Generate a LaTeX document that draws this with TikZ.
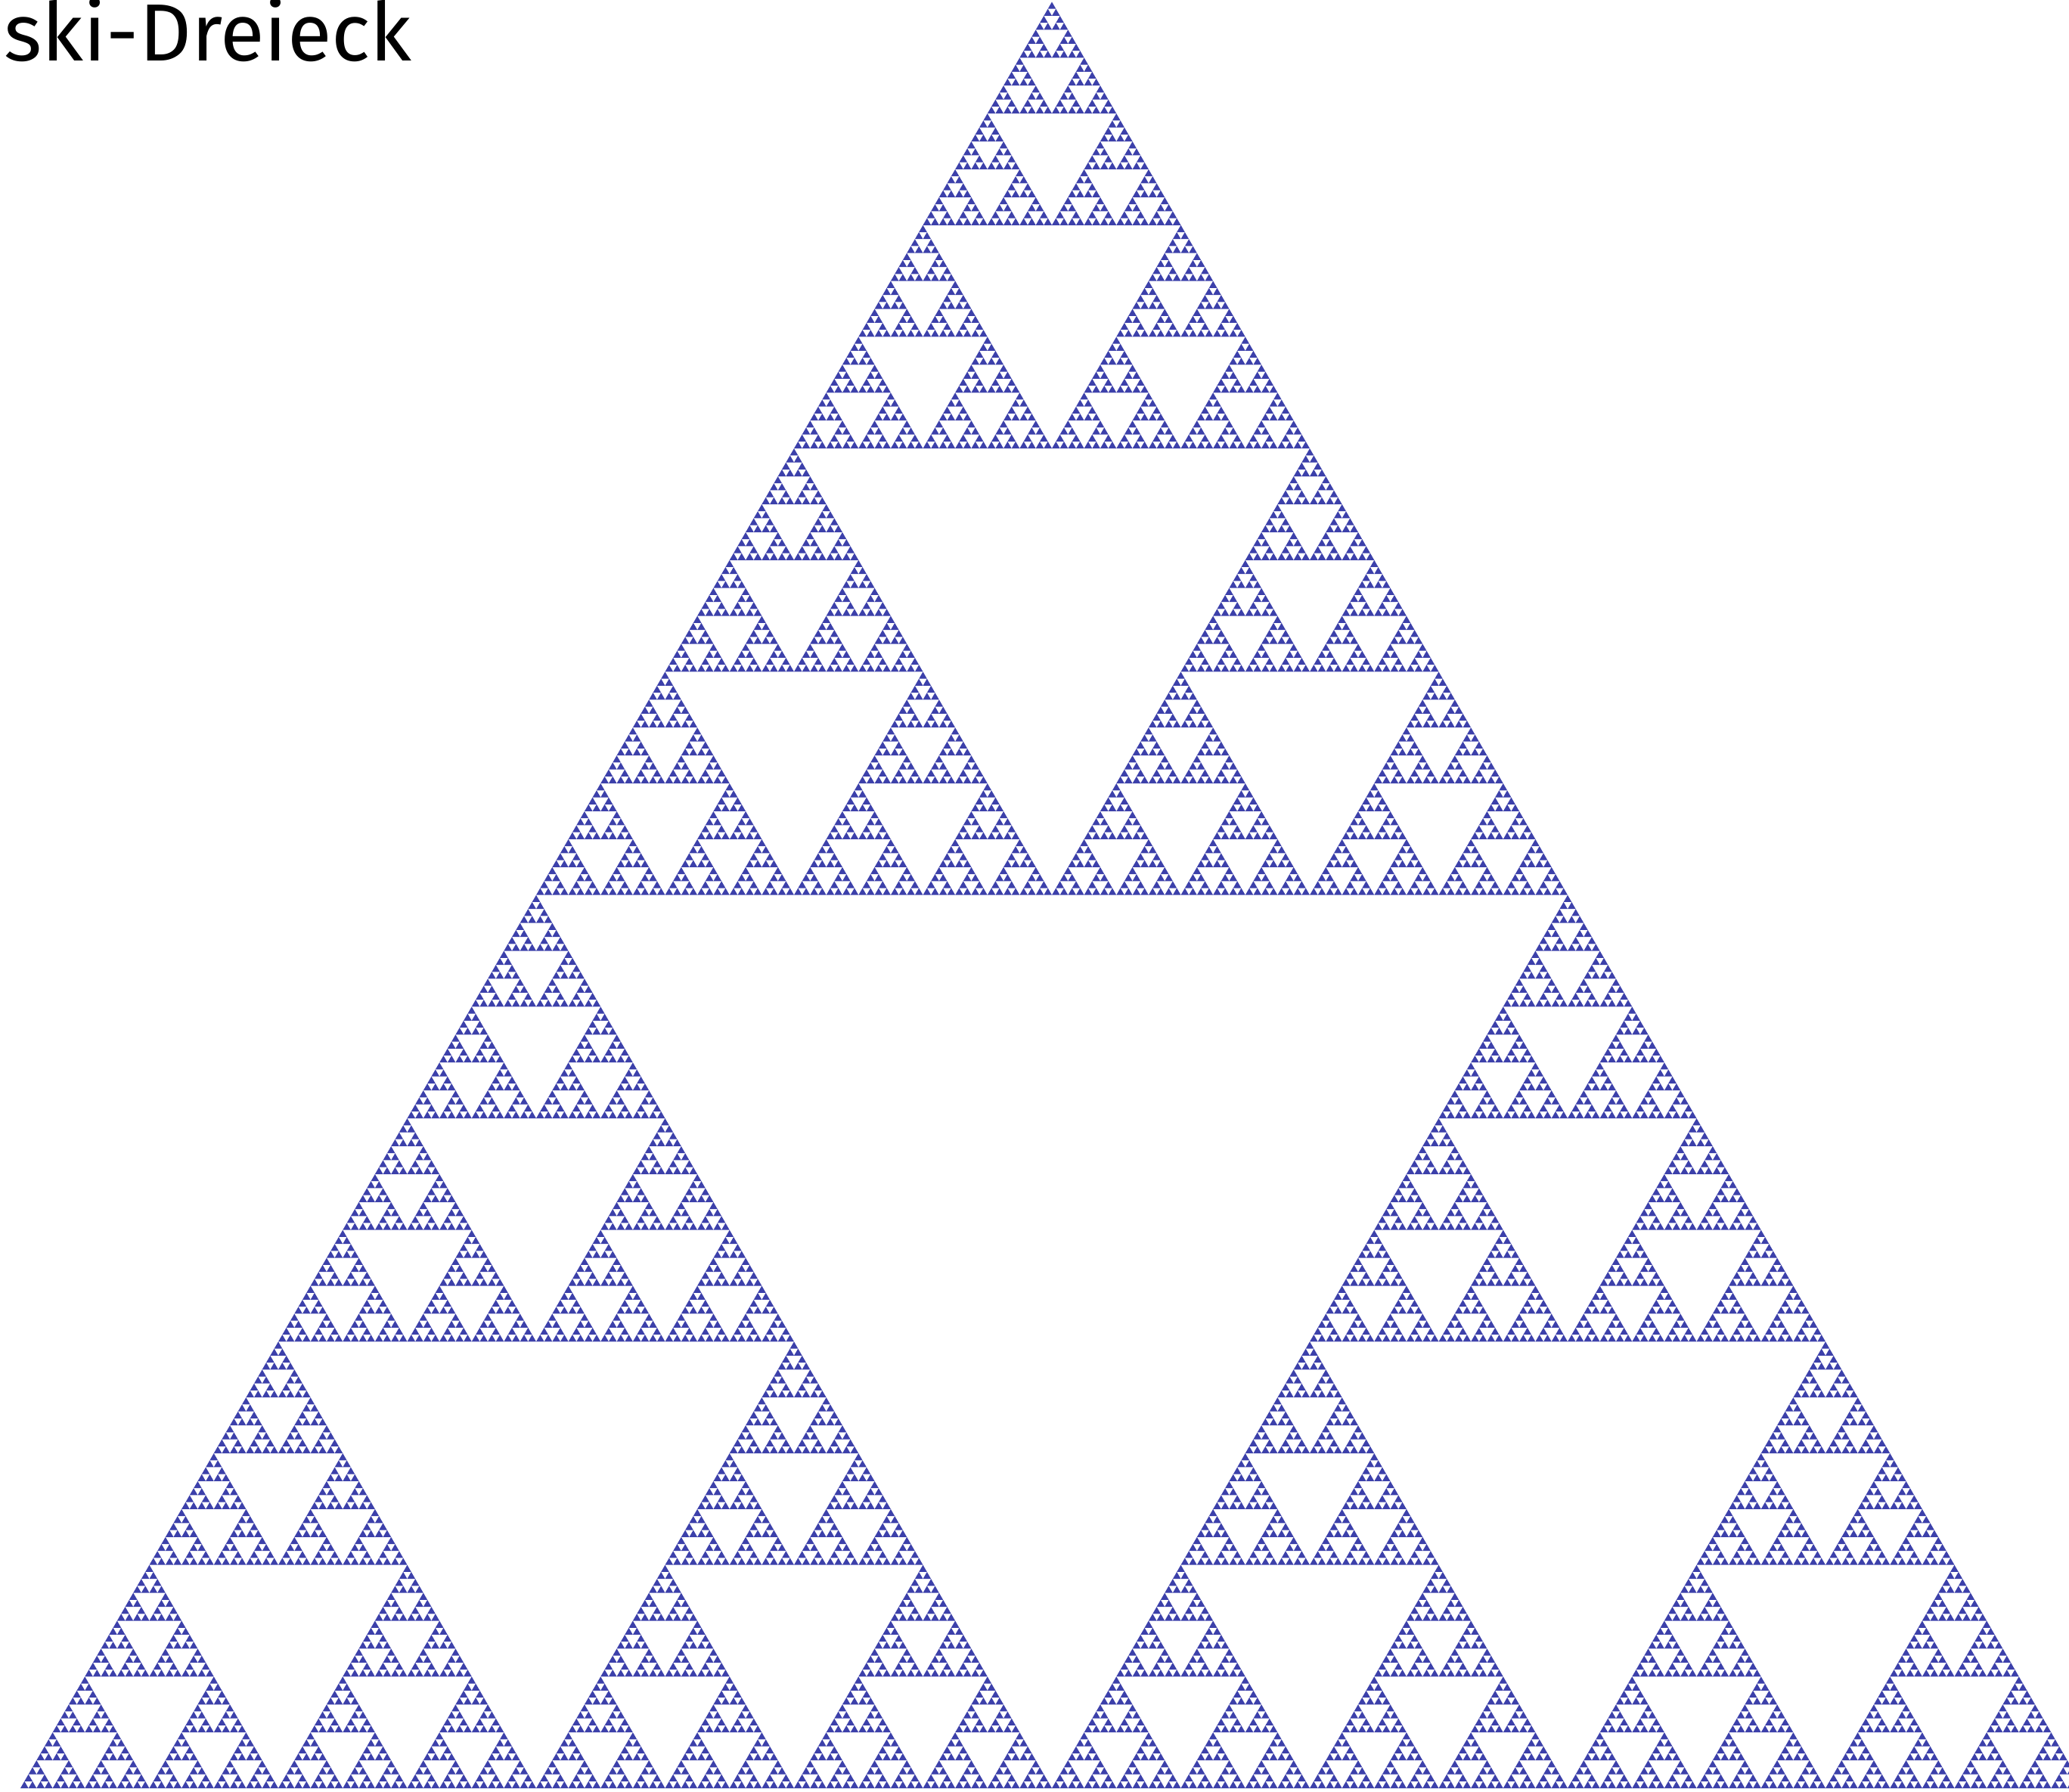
\documentclass[tikz,border=0pt]{standalone}
\usepackage{fontspec}
\setmainfont{Fira Sans}
\usepackage{tikz}
\usetikzlibrary{positioning}

% one level of the triangle: level, x and y of the lower left corner, side
\def\sierp#1#2#3#4{%
  \ifnum#1=0
    \fill[sierfill] (#2,#3) -- ++(#4,0) -- ++(120:#4) -- cycle;
  \else
    \pgfmathsetmacro\sidehalf{#4/2}%
    \pgfmathsetmacro\xmid{#2+#4/2}%
    \pgfmathsetmacro\xquart{#2+#4/4}%
    \pgfmathsetmacro\ymid{#3+0.4330127*#4}%
    \edef\sierpnext{%
      \noexpand\sierp{\the\numexpr#1-1\relax}{#2}{#3}{\sidehalf}%
      \noexpand\sierp{\the\numexpr#1-1\relax}{\xmid}{#3}{\sidehalf}%
      \noexpand\sierp{\the\numexpr#1-1\relax}{\xquart}{\ymid}{\sidehalf}}%
    \sierpnext
  \fi}

\begin{document}
\begin{tikzpicture}[sierfill/.style={fill=sierblue}]
      \definecolor{sierblue}{RGB}{60,64,170}
      \clip (0,0) rectangle (27.36,23.69);
      \sierp{8}{0.27}{0.04}{27.28}
      \node[anchor=base west, inner sep=0pt, font=\fontsize{30.5pt}{36pt}\selectfont] (title) at (0.05,22.88) {ski-Dreieck};
    \end{tikzpicture}
\end{document}
